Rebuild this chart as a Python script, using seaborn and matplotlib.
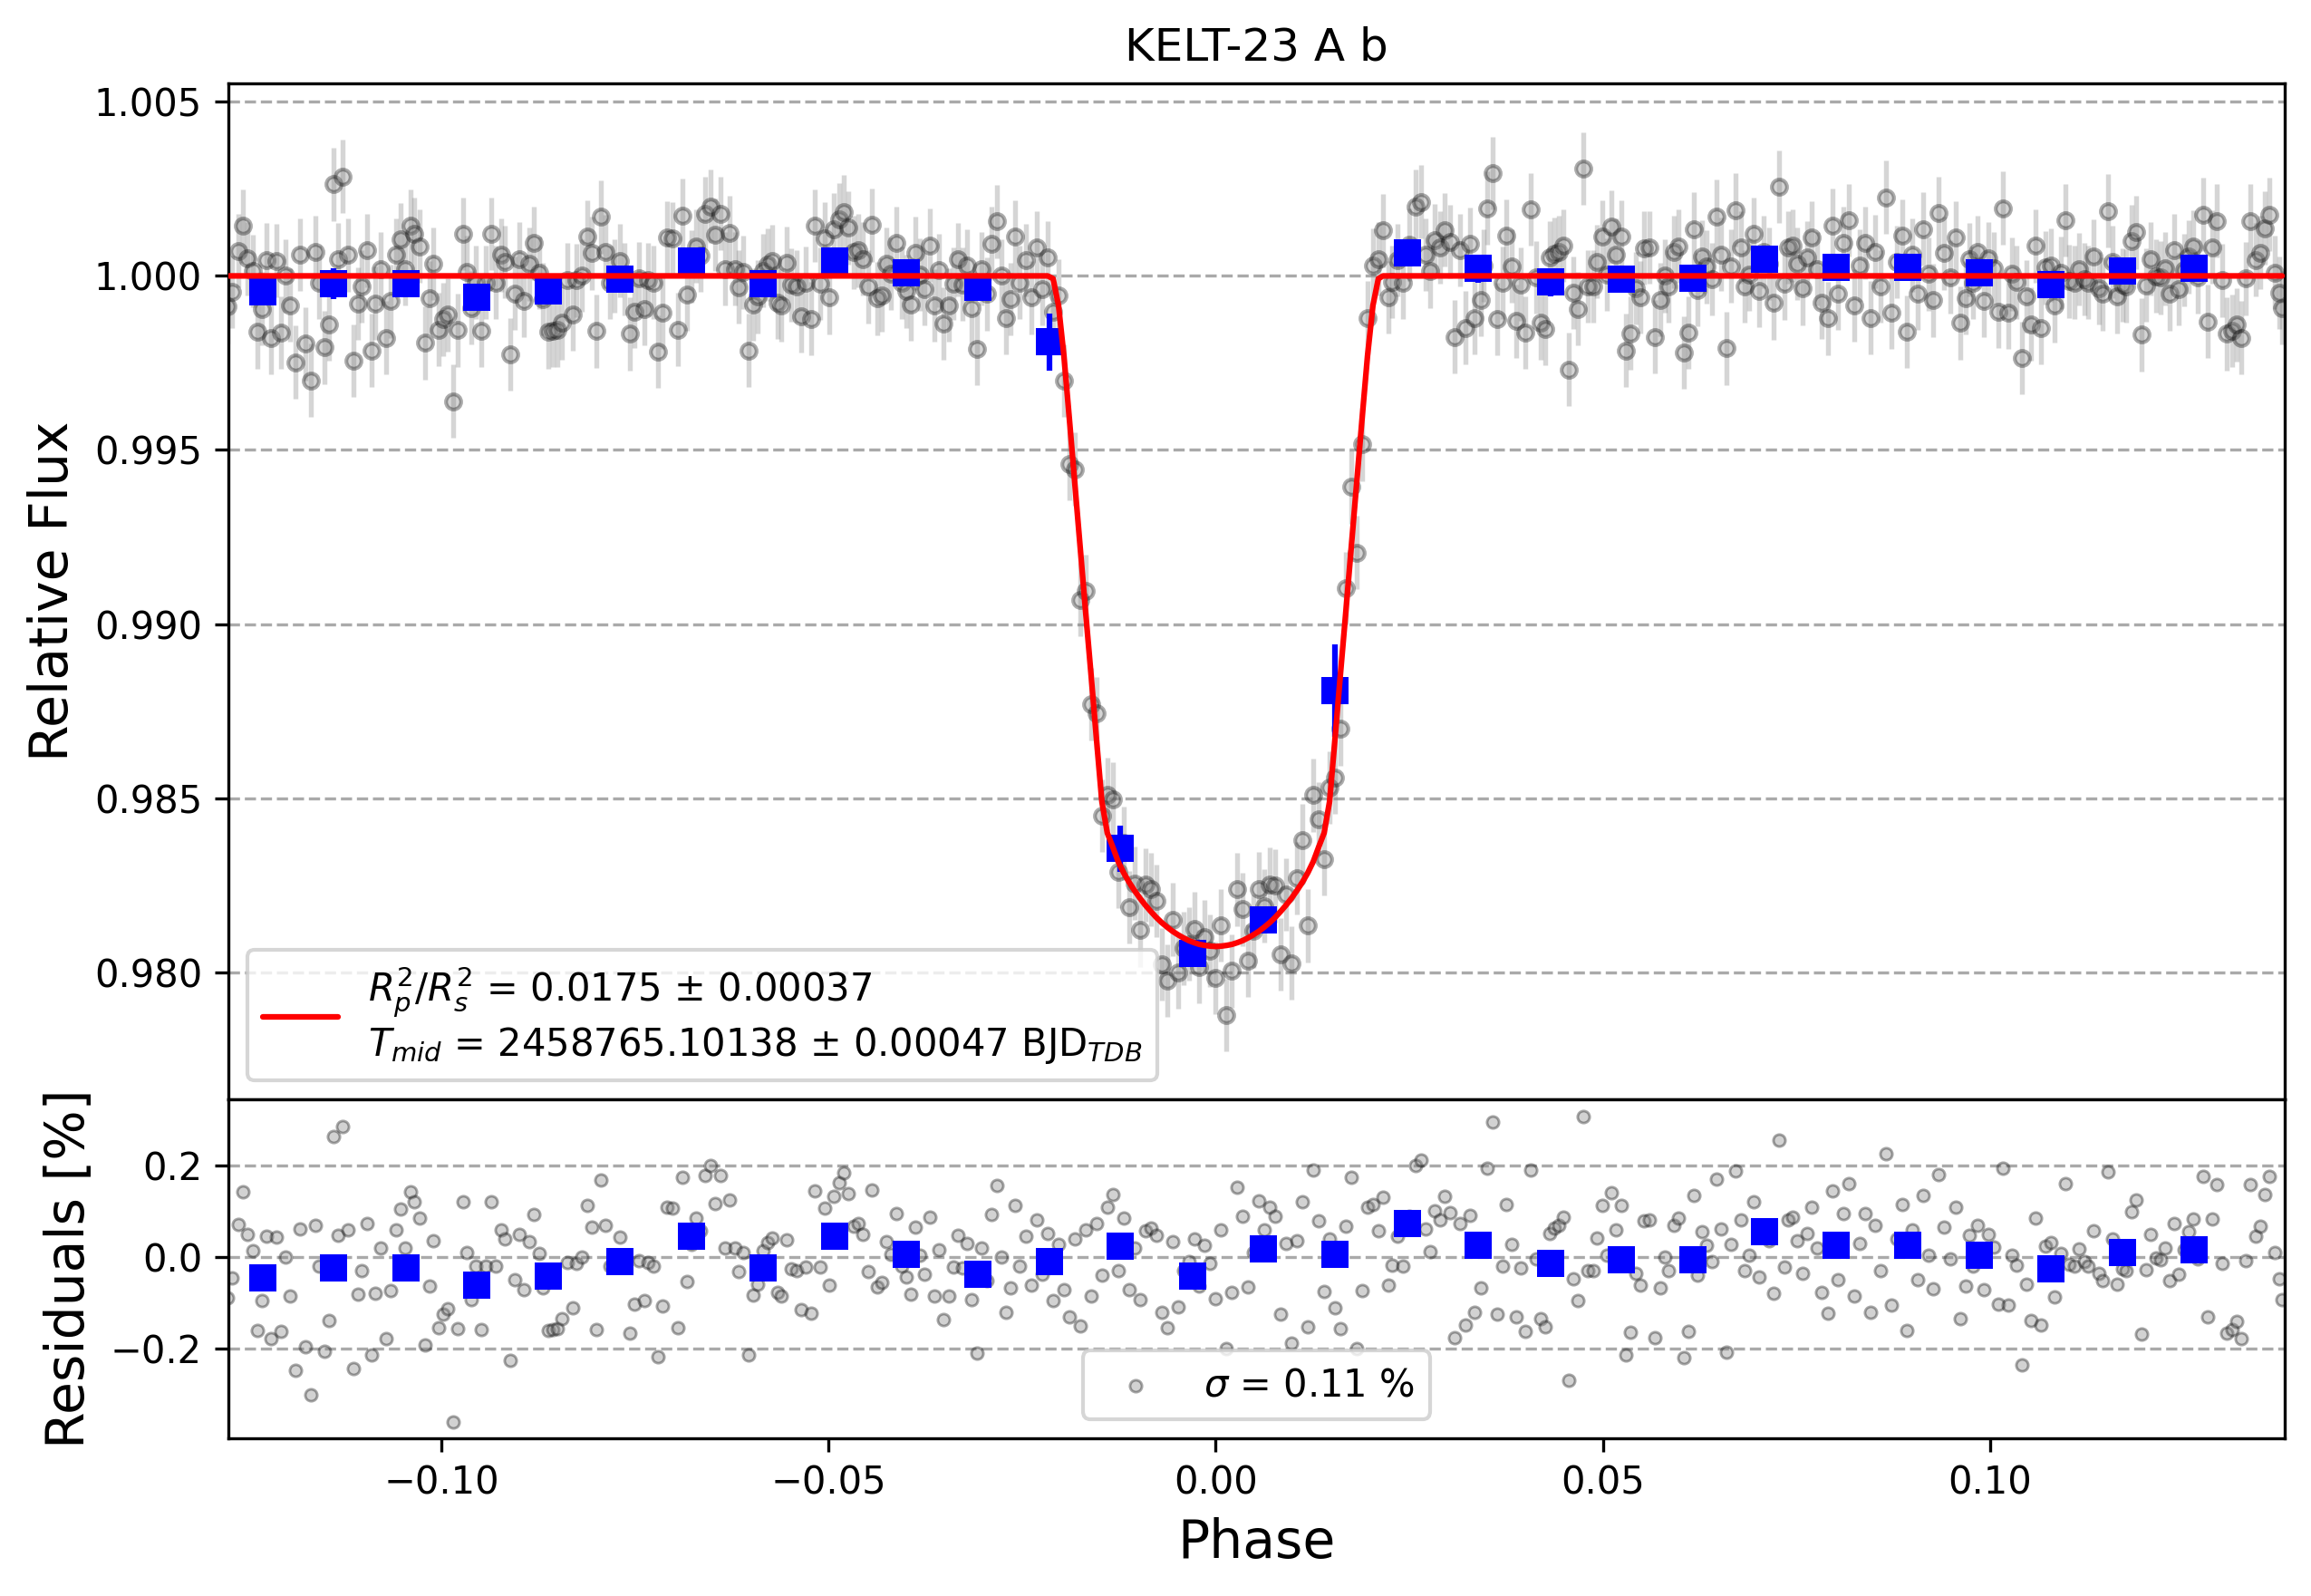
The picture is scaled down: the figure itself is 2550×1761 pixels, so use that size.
import numpy as np
import matplotlib
matplotlib.use('Agg')
import matplotlib.pyplot as plt
import seaborn as sns

# phase of each exposure
phase = [
    -0.1276, -0.1270, -0.1262, -0.1256, -0.1250, -0.1243, -0.1237, -0.1232, -0.1226, -0.1220,
    -0.1213, -0.1207, -0.1201, -0.1195, -0.1188, -0.1182, -0.1176, -0.1169, -0.1163, -0.1158,
    -0.1151, -0.1145, -0.1139, -0.1133, -0.1127, -0.1121, -0.1114, -0.1108, -0.1103, -0.1096,
    -0.1090, -0.1085, -0.1078, -0.1071, -0.1066, -0.1059, -0.1053, -0.1047, -0.1040, -0.1035,
    -0.1028, -0.1021, -0.1015, -0.1010, -0.1003, -0.0998, -0.0992, -0.0985, -0.0979, -0.0972,
    -0.0967, -0.0961, -0.0955, -0.0949, -0.0942, -0.0935, -0.0930, -0.0923, -0.0918, -0.0911,
    -0.0905, -0.0899, -0.0893, -0.0886, -0.0880, -0.0874, -0.0869, -0.0862, -0.0856, -0.0850,
    -0.0844, -0.0837, -0.0830, -0.0825, -0.0819, -0.0812, -0.0806, -0.0800, -0.0794, -0.0788,
    -0.0782, -0.0776, -0.0769, -0.0763, -0.0757, -0.0751, -0.0745, -0.0738, -0.0733, -0.0726,
    -0.0720, -0.0714, -0.0708, -0.0702, -0.0695, -0.0689, -0.0683, -0.0677, -0.0671, -0.0665,
    -0.0659, -0.0652, -0.0646, -0.0640, -0.0634, -0.0628, -0.0621, -0.0616, -0.0610, -0.0603,
    -0.0597, -0.0591, -0.0585, -0.0579, -0.0573, -0.0566, -0.0561, -0.0554, -0.0548, -0.0541,
    -0.0535, -0.0529, -0.0523, -0.0518, -0.0511, -0.0505, -0.0499, -0.0493, -0.0486, -0.0480,
    -0.0474, -0.0468, -0.0462, -0.0456, -0.0449, -0.0444, -0.0437, -0.0431, -0.0425, -0.0419,
    -0.0412, -0.0406, -0.0400, -0.0394, -0.0388, -0.0382, -0.0376, -0.0369, -0.0363, -0.0357,
    -0.0352, -0.0345, -0.0339, -0.0333, -0.0327, -0.0321, -0.0315, -0.0308, -0.0302, -0.0295,
    -0.0289, -0.0283, -0.0277, -0.0271, -0.0265, -0.0259, -0.0253,
    -0.0245, -0.0238, -0.0231, -0.0224, -0.0217, -0.0210, -0.0203, -0.0196, -0.0189, -0.0182,
    -0.0175, -0.0168, -0.0161, -0.0154, -0.0147, -0.0140, -0.0133, -0.0126, -0.0119, -0.0112,
    -0.0105, -0.0098, -0.0091, -0.0084, -0.0077, -0.0070, -0.0063, -0.0056, -0.0049, -0.0042,
    -0.0035, -0.0028, -0.0021, -0.0014, -0.0007, 0.0000, 0.0007, 0.0014, 0.0021, 0.0028,
    0.0035, 0.0042, 0.0049, 0.0056, 0.0063, 0.0070, 0.0077, 0.0084, 0.0091, 0.0098,
    0.0105, 0.0112, 0.0119, 0.0126, 0.0133, 0.0140, 0.0147, 0.0154, 0.0161, 0.0168,
    0.0175, 0.0182, 0.0189, 0.0196, 0.0203, 0.0210,
    0.0216, 0.0223, 0.0228, 0.0235, 0.0242, 0.0250, 0.0258, 0.0265, 0.0271, 0.0277,
    0.0283, 0.0290, 0.0296, 0.0303, 0.0309, 0.0316, 0.0322, 0.0328, 0.0334, 0.0342,
    0.0346, 0.0351, 0.0357, 0.0364, 0.0370, 0.0375, 0.0382, 0.0388, 0.0394, 0.0400,
    0.0407, 0.0414, 0.0420, 0.0425, 0.0431, 0.0437, 0.0443, 0.0449, 0.0456, 0.0462,
    0.0468, 0.0475, 0.0481, 0.0487, 0.0492, 0.0499, 0.0505, 0.0511, 0.0517, 0.0524,
    0.0530, 0.0535, 0.0542, 0.0548, 0.0553, 0.0560, 0.0567, 0.0574, 0.0580, 0.0585,
    0.0592, 0.0598, 0.0604, 0.0610, 0.0617, 0.0622, 0.0628, 0.0634, 0.0641, 0.0647,
    0.0653, 0.0659, 0.0665, 0.0671, 0.0678, 0.0683, 0.0689, 0.0695, 0.0702, 0.0708,
    0.0714, 0.0720, 0.0727, 0.0734, 0.0739, 0.0745, 0.0751, 0.0758, 0.0764, 0.0770,
    0.0776, 0.0782, 0.0790, 0.0797, 0.0804, 0.0811, 0.0818, 0.0824, 0.0831, 0.0838,
    0.0845, 0.0852, 0.0858, 0.0865, 0.0872, 0.0879, 0.0886, 0.0892, 0.0899, 0.0906,
    0.0913, 0.0920, 0.0926, 0.0933, 0.0940, 0.0949, 0.0955, 0.0961, 0.0968, 0.0973,
    0.0978, 0.0984, 0.0992, 0.0998, 0.1005, 0.1010, 0.1016, 0.1023, 0.1028, 0.1034,
    0.1041, 0.1047, 0.1053, 0.1059, 0.1066, 0.1071, 0.1078, 0.1083, 0.1091, 0.1097,
    0.1102, 0.1109, 0.1115, 0.1122, 0.1127, 0.1134, 0.1140, 0.1145, 0.1152, 0.1158,
    0.1164, 0.1171, 0.1176, 0.1183, 0.1189, 0.1195, 0.1201, 0.1207, 0.1214, 0.1220,
    0.1226, 0.1232, 0.1238, 0.1244, 0.1250, 0.1256, 0.1262, 0.1268, 0.1275, 0.1281,
    0.1287, 0.1293, 0.1300, 0.1305, 0.1312, 0.1318, 0.1324, 0.1330, 0.1336, 0.1343,
    0.1349, 0.1355, 0.1361, 0.1367, 0.1373, 0.1377,
]

# residual of each exposure in percent (lower panel)
resid_pct = [
    -0.088, -0.046, 0.072, 0.143, 0.050, 0.014, -0.161, -0.094, 0.046, -0.178,
    0.044, -0.163, 0.000, -0.084, -0.248, 0.061, -0.195, -0.300, 0.069, -0.019,
    -0.205, -0.139, 0.263, 0.047, 0.286, 0.060, -0.244, -0.080, -0.030, 0.073,
    -0.214, -0.079, 0.020, -0.178, -0.073, 0.060, 0.105, 0.020, 0.143, 0.121,
    0.085, -0.192, -0.063, 0.035, -0.154, -0.125, -0.112, -0.360, -0.156, 0.121,
    0.011, -0.092, -0.019, -0.158, -0.019, 0.121, -0.019, 0.060, 0.040, -0.225,
    -0.050, 0.049, -0.071, 0.034, 0.094, 0.009, -0.067, -0.161, -0.158, -0.156,
    -0.135, -0.011, -0.110, -0.013, 0.001, 0.113, 0.065, -0.159, 0.169, 0.070,
    -0.019, 0.000, 0.044, -0.009, -0.166, -0.102, -0.007, -0.094, -0.011, -0.019,
    -0.218, -0.106, 0.110, 0.108, -0.154, 0.174, -0.054, 0.027, 0.085, 0.058,
    0.179, 0.200, 0.118, 0.179, 0.020, 0.124, 0.020, -0.032, 0.011, -0.214,
    -0.082, -0.060, 0.015, 0.032, 0.042, -0.077, -0.084, 0.037, -0.026, -0.030,
    -0.115, -0.021, -0.123, 0.144, -0.022, 0.108, -0.062, 0.133, 0.162, 0.184,
    0.138, 0.068, 0.073, 0.049, -0.031, 0.146, -0.065, -0.055, 0.034, 0.006,
    0.095, -0.020, -0.044, -0.081, 0.065, 0.004, -0.038, 0.088, -0.085, 0.016,
    -0.137, -0.084, -0.022, 0.047, -0.024, 0.030, -0.092, -0.209, 0.020, -0.052,
    0.093, 0.156, 0.000, -0.120, -0.067, 0.113, -0.019,
    0.045, -0.062, 0.081, -0.038, 0.052, -0.095, 0.028, -0.071, -0.130, 0.040,
    -0.150, 0.060, -0.085, 0.074, -0.040, 0.110, 0.137, -0.030, 0.085, -0.072,
    0.020, -0.092, 0.058, 0.063, 0.047, -0.120, -0.154, 0.033, -0.109, -0.030,
    -0.010, 0.040, -0.064, 0.025, -0.013, -0.090, 0.060, -0.200, -0.076, 0.153,
    0.090, -0.066, 0.010, 0.122, 0.060, 0.110, 0.090, -0.124, 0.030, -0.187,
    0.035, 0.120, -0.152, 0.191, 0.080, -0.075, 0.040, -0.110, -0.156, 0.068,
    0.174, -0.200, -0.074, 0.110, 0.116, 0.057,
    0.130, -0.061, -0.017, 0.045, -0.020, 0.090, 0.200, 0.213, 0.061, 0.013,
    0.102, 0.082, 0.132, 0.098, -0.175, 0.074, -0.149, 0.091, -0.120, -0.068,
    0.030, 0.195, 0.295, -0.124, -0.020, 0.115, 0.028, -0.130, -0.024, -0.163,
    0.191, -0.004, -0.135, -0.152, 0.052, 0.063, 0.069, 0.087, -0.269, -0.048,
    -0.094, 0.308, -0.030, -0.030, 0.041, 0.113, 0.004, 0.141, 0.060, 0.113,
    -0.214, -0.165, -0.035, -0.061, 0.080, 0.082, -0.175, -0.068, 0.000, -0.030,
    0.069, 0.085, -0.220, -0.163, 0.135, -0.040, 0.056, 0.026, -0.009, 0.171,
    0.062, -0.208, 0.028, 0.189, 0.082, -0.030, 0.004, 0.120, -0.043, 0.069,
    0.035, -0.078, 0.256, -0.022, 0.082, 0.087, 0.035, -0.036, 0.052, 0.110,
    0.020, -0.076, -0.122, 0.145, -0.050, 0.095, 0.160, -0.085, 0.030, 0.095,
    -0.120, 0.070, -0.030, 0.226, -0.105, 0.040, 0.115, -0.160, 0.060, -0.050,
    0.135, 0.005, -0.070, 0.180, 0.065, -0.003, 0.110, -0.135, -0.063, 0.047,
    -0.020, 0.069, -0.071, 0.050, 0.022, -0.102, 0.195, -0.105, 0.005, -0.018,
    -0.236, -0.059, -0.139, 0.086, -0.149, 0.024, 0.031, -0.086, 0.009, 0.160,
    -0.015, -0.019, 0.019, -0.009, -0.019, 0.057, -0.035, -0.052, 0.187, 0.040,
    -0.060, -0.026, -0.029, 0.100, 0.125, -0.169, -0.027, 0.049, -0.001, -0.005,
    0.021, -0.052, 0.073, -0.038, 0.017, 0.055, 0.084, -0.003, 0.176, -0.131,
    0.083, 0.158, -0.013, -0.166, -0.158, -0.140, -0.178, -0.008, 0.158, 0.046,
    0.067, 0.137, 0.176, 0.010, -0.048, -0.092,
]

# red model: depth below 1 (ppm) at the in-transit exposures, phase -0.0210 ... 0.0210
transit_depth_ppm = [
    80, 850, 2300, 4100, 5950, 7800, 9650, 11450, 13300, 15100,
    16000, 16400, 16820, 17140, 17410, 17650, 17870, 18070, 18250, 18420,
    18570, 18700, 18820, 18920, 19010, 19090, 19150, 19200, 19230, 19250,
    19260,
    19250, 19230, 19200, 19150, 19090, 19010, 18920, 18820, 18700, 18570,
    18420, 18250, 18070, 17870, 17650, 17410, 17140, 16820, 16400, 16000,
    15100, 13300, 11450, 9650, 7800, 5950, 4100, 2300, 850, 80,
]
flux_err = 0.00105

# blue binned points
bin_phase = [-0.1231, -0.1139, -0.1046, -0.0954, -0.0862, -0.0769, -0.0677, -0.0584,
             -0.0492, -0.0400, -0.0307, -0.0215, -0.0123, -0.0030, 0.0062, 0.0154,
             0.0247, 0.0339, 0.0432, 0.0524, 0.0616, 0.0709, 0.0801, 0.0894,
             0.0986, 0.1078, 0.1171, 0.1263]
bin_flux = [0.99953, 0.99977, 0.99977, 0.99938, 0.99957, 0.99991, 1.00044, 0.99977,
            1.00044, 1.00008, 0.99966, 0.99810, 0.98355, 0.98053, 0.98149, 0.98808,
            1.00065, 1.00021, 0.99982, 0.99990, 0.99992, 1.00047, 1.00025, 1.00025,
            1.00008, 0.99975, 1.00013, 1.00021]
bin_err = [0.0003, 0.00044, 0.0003, 0.0003, 0.0003, 0.0003, 0.0003, 0.0003,
           0.0003, 0.0003, 0.0003, 0.00082, 0.00067, 0.0003, 0.0003, 0.00133,
           0.0003, 0.0004, 0.0004, 0.0003, 0.0003, 0.0003, 0.0003, 0.0003,
           0.0003, 0.0003, 0.0003, 0.0003]
bin_resid = [-0.046, -0.024, -0.024, -0.062, -0.042, -0.009, 0.045, -0.024,
             0.045, 0.007, -0.038, -0.010, 0.023, -0.042, 0.019, 0.006,
             0.074, 0.026, -0.013, -0.006, -0.006, 0.055, 0.026, 0.026,
             0.005, -0.026, 0.011, 0.017]

title = 'KELT-23 A b'
fit_label = (r'$R^{2}_{p}/R^{2}_{s}$ = 0.0175 ± 0.00037' + '\n'
             + r'$T_{mid}$ = 2458765.10138 ± 0.00047 BJD$_{TDB}$')
sigma_label = r'$\sigma$ = 0.11 %'

# style
sns.set_style('ticks')
plt.rcParams.update({
    'font.family': ['DejaVu Sans'],
    'axes.edgecolor': 'black', 'axes.labelcolor': 'black', 'text.color': 'black',
    'xtick.color': 'black', 'ytick.color': 'black', 'axes.linewidth': 0.8,
    'font.size': 10, 'xtick.labelsize': 10, 'ytick.labelsize': 10,
})

phase = np.array(phase)
resid = np.array(resid_pct)
depth = np.zeros(len(phase))
in_transit = np.abs(phase) < 0.0213
depth[in_transit] = transit_depth_ppm
model = 1 - depth / 1e6
flux = model + resid / 100

fig = plt.figure(figsize=(8.5, 5.87), dpi=300)
ax_lc = fig.add_axes([0.0989, 0.3110, 0.8896, 0.6369])
ax_res = fig.add_axes([0.0989, 0.0990, 0.8896, 0.2120], sharex=ax_lc)

# top panel: light curve
ax_lc.errorbar(phase, flux, yerr=flux_err, ls='none', marker='o', ms=4,
               color='gray', mec='black', mew=1.0, elinewidth=1.3, alpha=0.33, zorder=1)
ax_lc.errorbar(bin_phase, bin_flux, yerr=bin_err, fmt='s', ms=7, mew=0,
               color='blue', elinewidth=1.5, zorder=5)
sns.lineplot(x=phase, y=model, ax=ax_lc, color='red', linewidth=1.5,
             estimator=None, sort=True, zorder=10, label=fit_label)
ax_lc.set_title(title, fontsize=12)
ax_lc.set_ylabel('Relative Flux', fontsize=14)
ax_lc.set_ylim(0.97634, 1.005536)
ax_lc.set_yticks([0.980, 0.985, 0.990, 0.995, 1.000, 1.005])
ax_lc.ticklabel_format(axis='y', useOffset=False)
ax_lc.tick_params(axis='x', bottom=False, labelbottom=False)
ax_lc.legend(loc='lower left', fontsize=10)

# bottom panel: residuals
sns.scatterplot(x=phase, y=resid, ax=ax_res, marker='o', s=10, color='gray',
                edgecolor='black', linewidth=0.7, alpha=0.35, zorder=1, label=sigma_label)
sns.scatterplot(x=bin_phase, y=bin_resid, ax=ax_res, marker='s', s=49,
                color='blue', linewidth=0, zorder=5)
ax_res.set_ylim(-0.395, 0.344)
ax_res.set_yticks([-0.2, 0.0, 0.2])
ax_res.set_xlim(-0.12747, 0.13800)
ax_res.set_xticks([-0.10, -0.05, 0.00, 0.05, 0.10])
ax_res.set_xlabel('Phase', fontsize=14)
ax_res.set_ylabel('Residuals [%]', fontsize=14)
ax_res.legend(loc='lower center', fontsize=10)

for ax in (ax_lc, ax_res):
    ax.grid(axis='y', linestyle='--', color='#aaaaaa', linewidth=0.8)
    ax.set_axisbelow(True)

fig.savefig('out.png', dpi=300)
